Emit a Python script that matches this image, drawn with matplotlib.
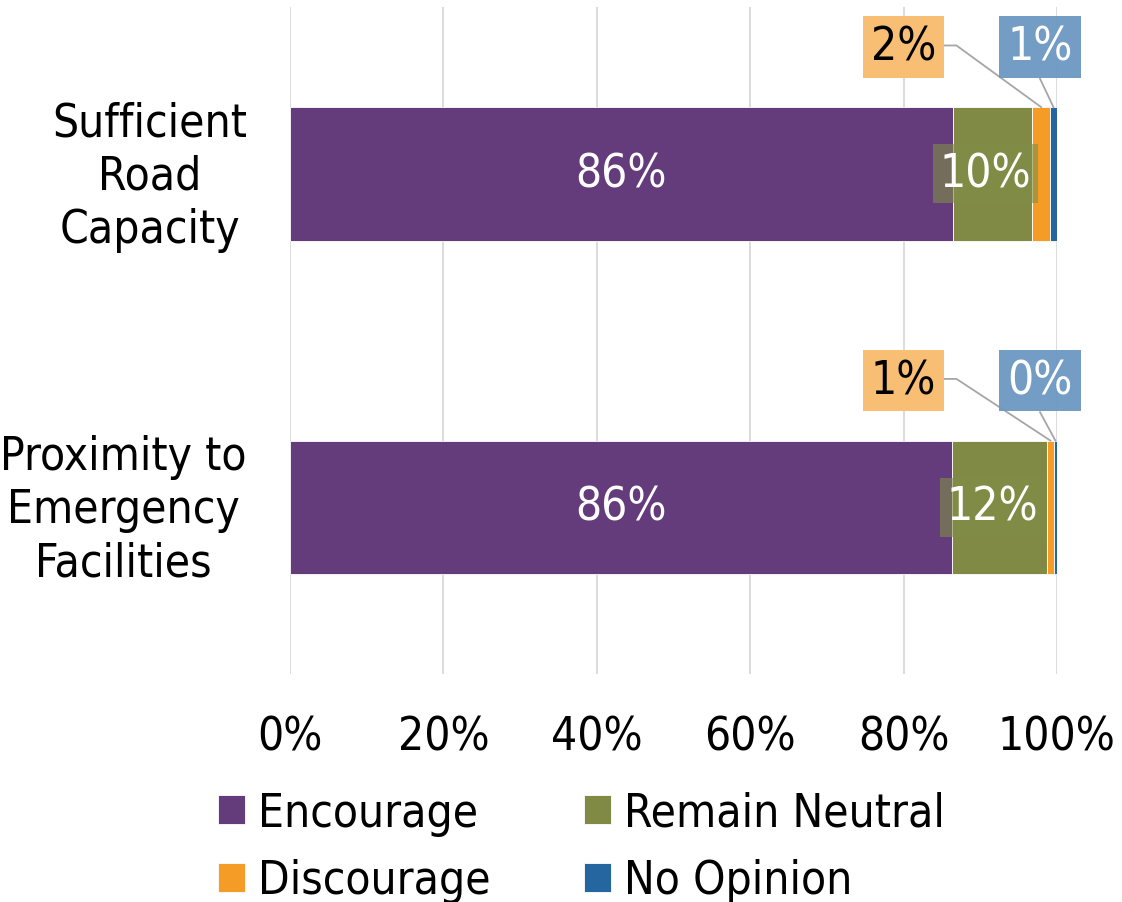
import matplotlib
matplotlib.use("Agg")
import matplotlib.pyplot as plt
import matplotlib.ticker as mticker
from matplotlib.transforms import ScaledTranslation
import numpy as np

categories = ["Sufficient\nRoad\nCapacity", "Proximity to\nEmergency\nFacilities"]
series = ["Encourage", "Remain Neutral", "Discourage", "No Opinion"]
encourage = [86.4, 86.3]
neutral = [10.4, 12.4]
discourage = [2.3, 0.9]
no_opinion = [0.9, 0.4]
ticks = [0, 20, 40, 60, 80, 100]

COLORS = ["#643b7b", "#808a45", "#f49c25", "#2565a0"]
BOX_ORANGE = "#f7be74"
BOX_BLUE = "#6b98c2"
GRID = "#d9d9d9"
LEADER = "#a6a6a6"

plt.rcParams["font.family"] = ["DejaVu Sans"]
plt.rcParams["font.stretch"] = "condensed"
FS = 33

fig = plt.figure(figsize=(11.22, 9.03), dpi=100)
ax = fig.add_axes([0.2585, 0.2525, 0.6835, 0.7385])

y = np.arange(len(categories))
h = 0.4
vals = [encourage, neutral, discourage, no_opinion]
left = np.zeros(len(categories))
handles = []
for name, v, c in zip(series, vals, COLORS):
    b = ax.barh(y, v, left=left, height=h, color=c, label=name,
                edgecolor="white", linewidth=0.6, zorder=2)
    handles.append(b)
    left = left + np.array(v)

ax.set_xlim(0, 100)
ax.set_ylim(1.5, -0.5)
ax.set_xticks(ticks)
ax.xaxis.set_major_formatter(mticker.FuncFormatter(lambda x, _: f"{x:.0f}%"))
ax.set_yticks(y)
ax.set_yticklabels(categories, ha="right", multialignment="center", linespacing=1.24)
ax.tick_params(axis="y", length=0, labelsize=FS, pad=31)
ax.tick_params(axis="x", length=0, labelsize=FS, pad=29)
for lbl in ax.get_yticklabels():
    lbl.set_transform(lbl.get_transform() + ScaledTranslation(0, 5 / 72, fig.dpi_scale_trans))
ax.grid(axis="x", color=GRID, linewidth=1.3, zorder=0)
ax.set_axisbelow(True)
for s in ax.spines.values():
    s.set_visible(False)

# in-bar labels
for i in range(len(categories)):
    ax.text(encourage[i] / 2, y[i], f"{encourage[i]:.0f}%", ha="center", va="center",
            color="white", fontsize=FS, zorder=4)
    ax.text(encourage[i] + neutral[i] / 2 - 0.9, y[i], f"{neutral[i]:.0f}%", ha="center",
            va="center", color="white", fontsize=FS, zorder=4,
            bbox=dict(boxstyle="square,pad=0.15", facecolor="#808f47", edgecolor="none", alpha=0.6))

# callout labels for small segments
box_y = [-0.38, 0.62]
for i in range(len(categories)):
    top = y[i] - h / 2
    d_mid = encourage[i] + neutral[i] + discourage[i] / 2
    n_mid = encourage[i] + neutral[i] + discourage[i] + no_opinion[i] / 2
    # discourage
    tx = 80.0
    ax.text(tx, box_y[i], f"{discourage[i]:.0f}%", ha="center", va="center",
            color="black", fontsize=FS, zorder=5,
            bbox=dict(boxstyle="square,pad=0.18", facecolor=BOX_ORANGE, edgecolor="none"))
    ax.plot([tx + 5.3, tx + 6.9, d_mid], [box_y[i] - 0.005, box_y[i] - 0.005, top],
            color=LEADER, linewidth=1.3, zorder=3, clip_on=False)
    # no opinion
    bx = 97.8
    ax.text(bx, box_y[i], f"{no_opinion[i]:.0f}%", ha="center", va="center",
            color="white", fontsize=FS, zorder=5,
            bbox=dict(boxstyle="square,pad=0.18", facecolor=BOX_BLUE, edgecolor="none", alpha=0.95))
    ax.plot([bx, n_mid], [box_y[i] + 0.095, top],
            color=LEADER, linewidth=1.3, zorder=3, clip_on=False)

order = [0, 2, 1, 3]
fig.legend([handles[k] for k in order], [series[k] for k in order],
           loc="upper left", bbox_to_anchor=(0.194, 0.123), ncol=2, frameon=False,
           fontsize=FS, handlelength=0.59, handleheight=0.59, handletextpad=0.28,
           columnspacing=2.04, labelspacing=0.49, borderpad=0, borderaxespad=0)

fig.savefig("out.png", dpi=100)
